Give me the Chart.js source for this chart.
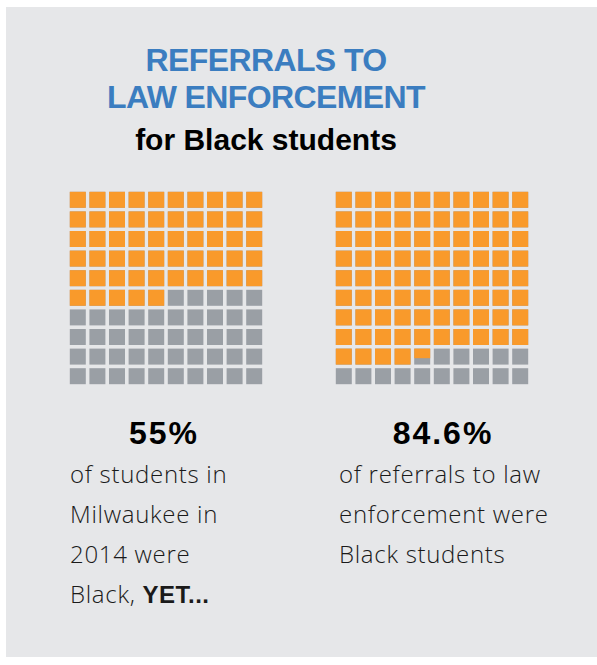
<!DOCTYPE html>
<html>
<head>
<meta charset="utf-8">
<script src="https://cdn.jsdelivr.net/npm/chart.js@4.4.1/dist/chart.umd.min.js"></script>
<style>
    html, body { margin: 0; padding: 0; background: #ffffff; }
    #panel { position: absolute; left: 6px; top: 7px; width: 591px; height: 650px; background: #e6e7e9; }
    .abs { position: absolute; white-space: nowrap; }
    .title { left: 0; width: 532px; text-align: center; font-family: "Liberation Sans", Arial, sans-serif; font-weight: bold; line-height: 1; }
    .blue { color: #3b7dc0; font-size: 32px; letter-spacing: -0.6px; }
    .sub { color: #000; font-size: 30px; }
    .big { font-family: "Liberation Sans", Arial, sans-serif; font-weight: bold; font-size: 32px; line-height: 1; letter-spacing: 2px; color: #000; text-align: center; width: 200px; }
    .body { font-family: "Open Sans", sans-serif; font-weight: 300; font-size: 24px; letter-spacing: 0.7px; line-height: 40px; color: #1a1a1a; }
    .body b { font-family: "Liberation Sans", Arial, sans-serif; font-weight: bold; letter-spacing: 0.5px; }
    canvas { position: absolute; }
</style>
</head>
<body>
<div id="panel"></div>
<div class="abs title blue" style="top:44px">REFERRALS TO</div>
<div class="abs title blue" style="top:81px">LAW ENFORCEMENT</div>
<div class="abs title sub" style="top:125px">for Black students</div>

<canvas id="waffle1" width="196" height="196" style="left:68px;top:190px;width:196px;height:196px"></canvas>
<canvas id="waffle2" width="196" height="196" style="left:334px;top:190px;width:196px;height:196px"></canvas>

<div class="abs big" id="num1" style="left:64px;top:417px"></div>
<div class="abs big" id="num2" style="left:343px;top:417px"></div>

<div class="abs body" style="left:70px;top:454px">of students in<br>Milwaukee in<br>2014 were<br>Black, <b>YET...</b></div>
<div class="abs body" style="left:339px;top:454px">of referrals to law<br>enforcement were<br>Black students</div>

<script>
// values
var shares = [55, 84.6];
var shareLabels = ['55%', '84.6%'];
var gridCols = ['1', '2', '3', '4', '5', '6', '7', '8', '9', '10'];
var gridRows = [0, 1, 2, 3, 4, 5, 6, 7, 8, 9];

var orange = '#f99a2b';
var gray = '#9a9fa5';
var pad = 0.092;

function makeWaffle(id, share) {
    var datasets = [];

    // gray cells underneath, one dataset per row
    gridRows.forEach(function (r) {
        datasets.push({
            data: gridCols.map(function () { return [r + pad, r + 1 - pad]; }),
            backgroundColor: gray,
            grouped: false,
            order: 2
        });
    });

    // orange cells, filled left to right from the top row
    gridRows.forEach(function (r) {
        datasets.push({
            data: gridCols.map(function (c, ci) {
                var frac = Math.max(0, Math.min(1, share - (r * gridCols.length + ci)));
                if (frac <= 0) return null;
                return [r + pad, r + pad + (1 - 2 * pad) * frac];
            }),
            backgroundColor: orange,
            grouped: false,
            order: 1
        });
    });

    var ctx = document.getElementById(id).getContext('2d');
    return new Chart(ctx, {
        type: 'bar',
        data: {
            labels: gridCols,
            datasets: datasets
        },
        options: {
            responsive: false,
            animation: false,
            layout: { padding: 0 },
            datasets: {
                bar: {
                    categoryPercentage: 1,
                    barPercentage: 1 - 2 * pad,
                    borderWidth: 0,
                    borderSkipped: false
                }
            },
            scales: {
                x: { display: false },
                y: { display: false, min: 0, max: gridRows.length, reverse: true }
            },
            plugins: {
                legend: { display: false },
                tooltip: { enabled: false }
            }
        }
    });
}

document.addEventListener('DOMContentLoaded', function () {
    document.getElementById('num1').textContent = shareLabels[0];
    document.getElementById('num2').textContent = shareLabels[1];
    makeWaffle('waffle1', shares[0]);
    makeWaffle('waffle2', shares[1]);
});
</script>
</body>
</html>
